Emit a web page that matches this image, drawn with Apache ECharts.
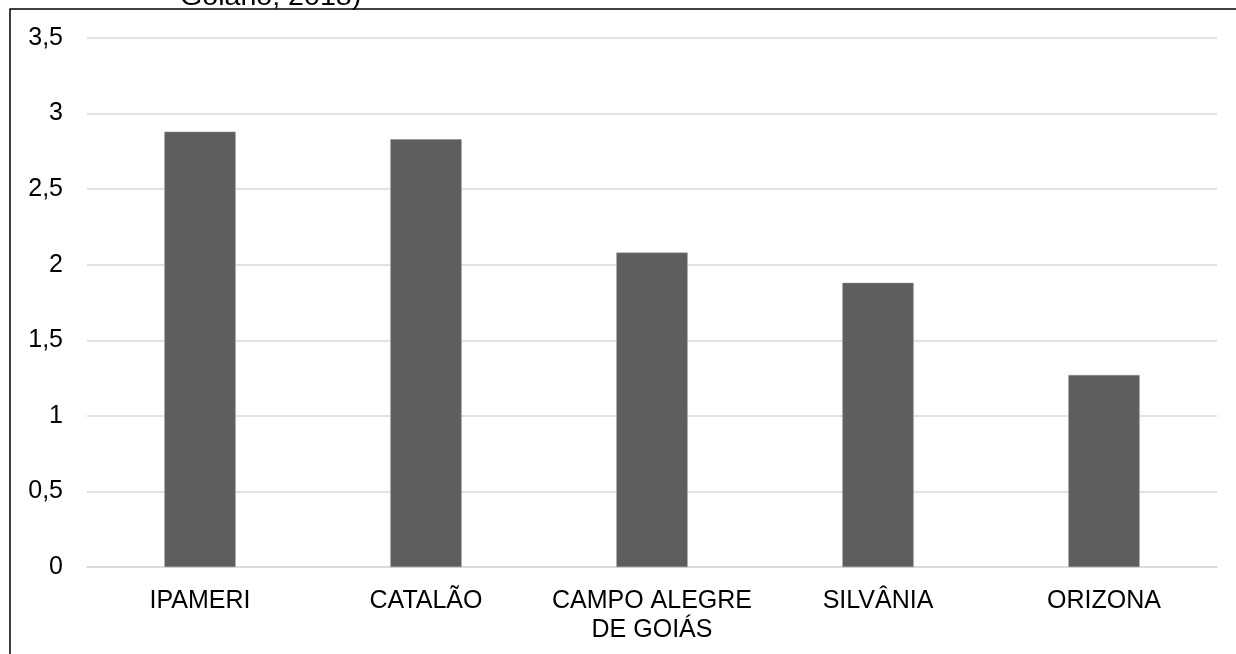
<!DOCTYPE html>
<html>
<head>
<meta charset="utf-8">
<script src="https://cdn.jsdelivr.net/npm/echarts@6/dist/echarts.min.js"></script>
<style>
  html, body { margin: 0; padding: 0; background: #fff; }
  #chart { width: 1236px; height: 654px; }
</style>
</head>
<body>
<div id="chart"></div>
<script>
// municípios e valores
const categories = ['IPAMERI', 'CATALÃO', 'CAMPO ALEGRE\nDE GOIÁS', 'SILVÂNIA', 'ORIZONA'];
const values = [2.88, 2.83, 2.08, 1.88, 1.27];
const yTicks = [0, 0.5, 1, 1.5, 2, 2.5, 3, 3.5];
const captionTail = 'Goiano, 2018)';

const FONT = '"Liberation Sans", Arial, sans-serif';

const chart = echarts.init(document.getElementById('chart'));

chart.setOption({
  animation: false,
  backgroundColor: '#fff',
  graphic: [
    {
      type: 'rect',
      shape: { x: 10, y: 9, width: 1400, height: 800 },
      style: { fill: 'none', stroke: '#000', lineWidth: 1.5 },
      z: 10,
    },
    {
      type: 'text',
      x: 180,
      y: -15,
      scaleX: 1.1,
      style: { text: captionTail, font: '26px ' + FONT, fill: '#000' },
    },
  ],
  grid: { left: 87, right: 19, top: 38, bottom: 87 },
  xAxis: {
    type: 'category',
    data: categories,
    axisLine: { show: true, lineStyle: { color: '#d9d9d9', width: 1.5 } },
    axisTick: { show: false },
    axisLabel: {
      color: '#000',
      fontSize: 25,
      fontFamily: FONT,
      lineHeight: 29,
      margin: 20,
      interval: 0,
    },
  },
  yAxis: {
    type: 'value',
    min: yTicks[0],
    max: yTicks[yTicks.length - 1],
    interval: 0.5,
    axisLine: { show: false },
    axisTick: { show: false },
    axisLabel: {
      color: '#000',
      fontSize: 25,
      fontFamily: FONT,
      margin: 24,
      formatter: (v) => String(v).replace('.', ','),
    },
    splitLine: { lineStyle: { color: '#d9d9d9', width: 1.5 } },
  },
  series: [{
    type: 'bar',
    data: values,
    barWidth: '31.5%',
    itemStyle: { color: '#5e5e5e', borderColor: '#8a8a8a', borderWidth: 0.5 },
  }],
});
</script>
</body>
</html>
